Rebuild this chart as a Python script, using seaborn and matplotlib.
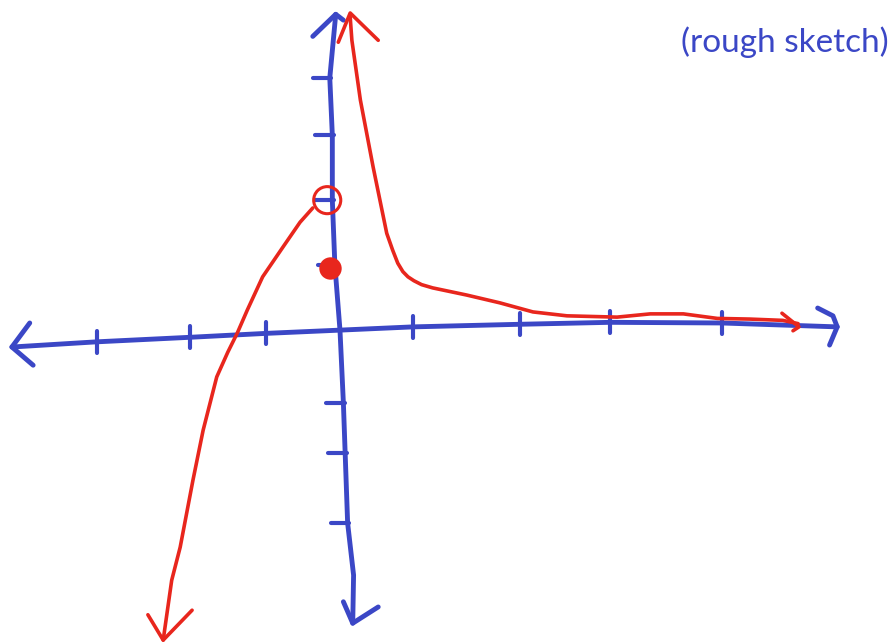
import numpy as np
import pandas as pd
import matplotlib
matplotlib.use("Agg")
import matplotlib.pyplot as plt
import seaborn as sns

# ---- data (sketch units) ----
# x-axis (hand drawn, slightly tilted)
xaxis_x = [-3.86, -2.86, -1.76, -0.87, 0.0, 0.86, 2.12, 3.18, 4.49, 5.85]
xaxis_y = [-0.26, -0.18, -0.11, -0.05, 0.0, 0.05, 0.09, 0.12, 0.11, 0.05]
xtick_pos = [-2.86, -1.76, -0.87, 0.86, 2.12, 3.18, 4.49]
xarrow_left_x = [-3.65, -3.86, -3.61]
xarrow_left_y = [0.11, -0.26, -0.54]
xarrow_right_x = [5.62, 5.80, 5.85, 5.76]
xarrow_right_y = [0.34, 0.22, 0.05, -0.23]

# y-axis
yaxis_x = [-0.05, -0.12, -0.09, -0.09, -0.06, 0.0, 0.04, 0.09, 0.16, 0.15]
yaxis_y = [4.86, 3.88, 3.00, 2.00, 1.00, 0.0, -1.12, -2.97, -3.77, -4.51]
ytick_pos = [3.88, 3.00, 2.00, 1.00, -1.12, -1.89, -2.97]
yarrow_top_x = [-0.32, -0.05, 0.04]
yarrow_top_y = [4.52, 4.86, 4.77]
yarrow_bot_x = [0.04, 0.15, 0.45]
yarrow_bot_y = [-4.18, -4.51, -4.26]

# red curve, right branch
right_x = [0.12, 0.14, 0.24, 0.39, 0.55, 0.62, 0.68, 0.74, 0.80, 0.87, 0.96,
           1.09, 1.49, 1.88, 2.27, 2.67, 3.26, 3.65, 4.04, 4.44, 4.82, 5.21, 5.39]
right_y = [4.82, 4.46, 3.54, 2.51, 1.49, 1.23, 1.03, 0.90, 0.82, 0.76, 0.70,
           0.65, 0.54, 0.42, 0.28, 0.22, 0.20, 0.25, 0.25, 0.18, 0.17, 0.15, 0.10]
rarrow_top_x = [-0.02, 0.12, 0.45]
rarrow_top_y = [4.43, 4.88, 4.46]
rarrow_right_x = [5.20, 5.40, 5.33]
rarrow_right_y = [0.26, 0.05, -0.01]

# red curve, left branch
left_x = [-0.32, -0.47, -0.67, -0.91, -1.09, -1.21, -1.32, -1.45, -1.61,
          -1.73, -1.88, -1.98, -2.08]
left_y = [1.88, 1.66, 1.28, 0.82, 0.31, -0.05, -0.34, -0.72, -1.54,
          -2.31, -3.34, -3.85, -4.77]
larrow_x = [-2.26, -2.08, -1.74]
larrow_y = [-4.38, -4.77, -4.31]

# special points
open_pt = (-0.15, 2.00)
closed_pt = (-0.12, 0.95)

label = "(rough sketch)"

BLUE = "#3b47c6"
RED = "#e8261d"

sns.set_theme(style="white")
plt.rcParams["font.family"] = ["Lato", "DejaVu Sans"]

fig = plt.figure(figsize=(8.95, 6.44), dpi=100)
ax = fig.add_axes([0, 0, 1, 1])
ax.set_xlim(-4.0, 6.53)
ax.set_ylim(-4.83, 5.08)
ax.axis("off")

bw = 3.5
rw = 2.6


def line(xs, ys, color, lw):
    sns.lineplot(x=xs, y=ys, sort=False, estimator=None, color=color,
                 linewidth=lw, ax=ax, solid_capstyle="round",
                 solid_joinstyle="round")


# axes
line(xaxis_x, xaxis_y, BLUE, bw)
line(xarrow_left_x, xarrow_left_y, BLUE, bw)
line(xarrow_right_x, xarrow_right_y, BLUE, bw)
for t in xtick_pos:
    yc = np.interp(t, xaxis_x, xaxis_y)
    line([t, t], [yc + 0.17, yc - 0.17], BLUE, bw * 0.85)

line(yaxis_x, yaxis_y, BLUE, bw)
line(yarrow_top_x, yarrow_top_y, BLUE, bw)
line(yarrow_bot_x, yarrow_bot_y, BLUE, bw)
yy = yaxis_y[::-1]
yx = yaxis_x[::-1]
for t in ytick_pos:
    xc = np.interp(t, yy, yx)
    line([xc - 0.2, xc + 0.02], [t, t], BLUE, bw * 0.85)

# red curve
line(right_x, right_y, RED, rw)
line(rarrow_top_x, rarrow_top_y, RED, rw)
line(rarrow_right_x, rarrow_right_y, RED, rw)
line(left_x, left_y, RED, rw)
line(larrow_x, larrow_y, RED, rw)

sns.scatterplot(x=[open_pt[0]], y=[open_pt[1]], s=380, marker="o",
                facecolor="none", edgecolor=RED, linewidth=2.2, ax=ax, zorder=5)
sns.scatterplot(x=[closed_pt[0]], y=[closed_pt[1]], s=260, marker="o",
                color=RED, edgecolor=RED, linewidth=0, ax=ax, zorder=5)

ax.text(0.877, 0.935, label, transform=ax.transAxes, ha="center", va="center",
        color=BLUE, fontsize=24, family=["Lato", "DejaVu Sans"])

fig.savefig("out.png", dpi=100)
